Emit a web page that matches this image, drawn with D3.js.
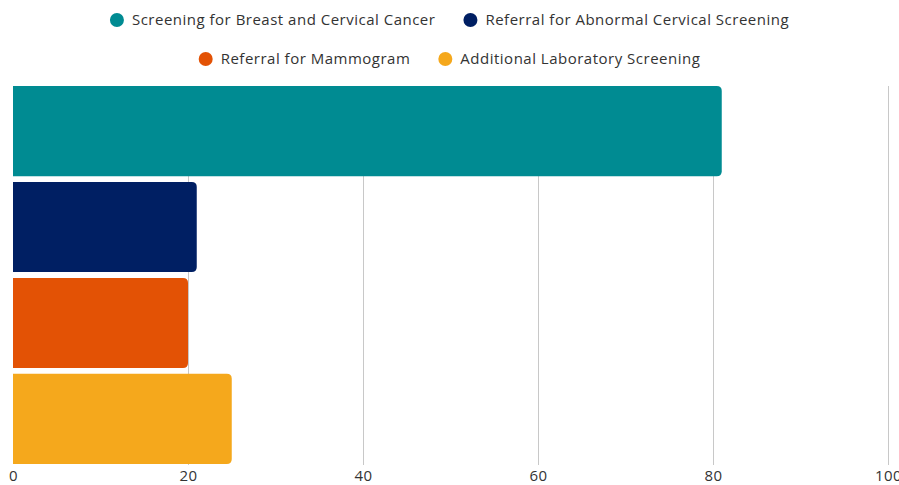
<!DOCTYPE html>
<html><head><meta charset="utf-8">
<script src="https://cdn.jsdelivr.net/npm/d3@7"></script>
<style>html,body{margin:0;padding:0;background:#fff;}svg{display:block;}</style>
</head><body>
<svg id="chart" width="899" height="485"></svg>
<script>
const categories = ["Screening for Breast and Cervical Cancer","Referral for Abnormal Cervical Screening","Referral for Mammogram","Additional Laboratory Screening"];
const values = [81, 21, 20, 25];
const colors = ["#008b92","#001f63","#e35205","#f5a81c"];
const xTicks = [0,20,40,60,80,100];
const legendRows = [[0,1],[2,3]];

const svg = d3.select("#chart");
const W = 899, H = 485;
const margin = {left:13, right:11, top:86, bottom:21};
const font = "'Open Sans', sans-serif";

const x = d3.scaleLinear().domain([0,100]).range([margin.left, W - margin.right]);
const y = d3.scaleBand().domain(categories).range([margin.top, H - margin.bottom]).paddingInner(0.06).paddingOuter(0);

// gridlines
svg.append("g").selectAll("line").data(xTicks.filter(d=>d>0)).join("line")
  .attr("x1", d=>x(d)).attr("x2", d=>x(d))
  .attr("y1", margin.top).attr("y2", H - margin.bottom + 1)
  .attr("stroke", "#c8c8c8").attr("stroke-width", 1).attr("shape-rendering","crispEdges");

// bars with rounded right corners
const r = 5;
function barPath(x0, x1, y0, h){
  const rr = Math.min(r, (x1-x0)/2, h/2);
  return `M${x0},${y0}H${x1-rr}Q${x1},${y0} ${x1},${y0+rr}V${y0+h-rr}Q${x1},${y0+h} ${x1-rr},${y0+h}H${x0}Z`;
}
svg.append("g").selectAll("path").data(categories).join("path")
  .attr("d", (c,i)=>barPath(x(0), x(values[i]), y(c), y.bandwidth()))
  .attr("fill", (c,i)=>colors[i]);

// x axis labels
const axis = d3.axisBottom(x).tickValues(xTicks).tickSize(0).tickPadding(6);
const ag = svg.append("g").attr("transform", `translate(0,${H - margin.bottom})`).call(axis);
ag.select(".domain").remove();
ag.selectAll("text").attr("font-family", font).attr("font-size", 15).attr("letter-spacing", "0.5px").attr("fill", "#333");

// legend
const rowY = [20, 59];
legendRows.forEach((row, ri) => {
  const g = svg.append("g");
  let cx = 0;
  row.forEach((idx, k) => {
    const it = g.append("g");
    it.append("circle").attr("cx", 7).attr("cy", 0).attr("r", 7).attr("fill", colors[idx]);
    const t = it.append("text").attr("x", 22).attr("y", 0).attr("dy", "0.35em")
      .attr("font-family", font).attr("font-size", 15).attr("letter-spacing", "0.5px")
      .attr("fill", "#333").text(categories[idx]);
    const w = 22 + t.node().getComputedTextLength();
    it.attr("transform", `translate(${cx},0)`);
    cx += w + (k < row.length-1 ? 28 : 0);
  });
  g.attr("transform", `translate(${(W - cx)/2},${rowY[ri]})`);
});
</script>
</body></html>
